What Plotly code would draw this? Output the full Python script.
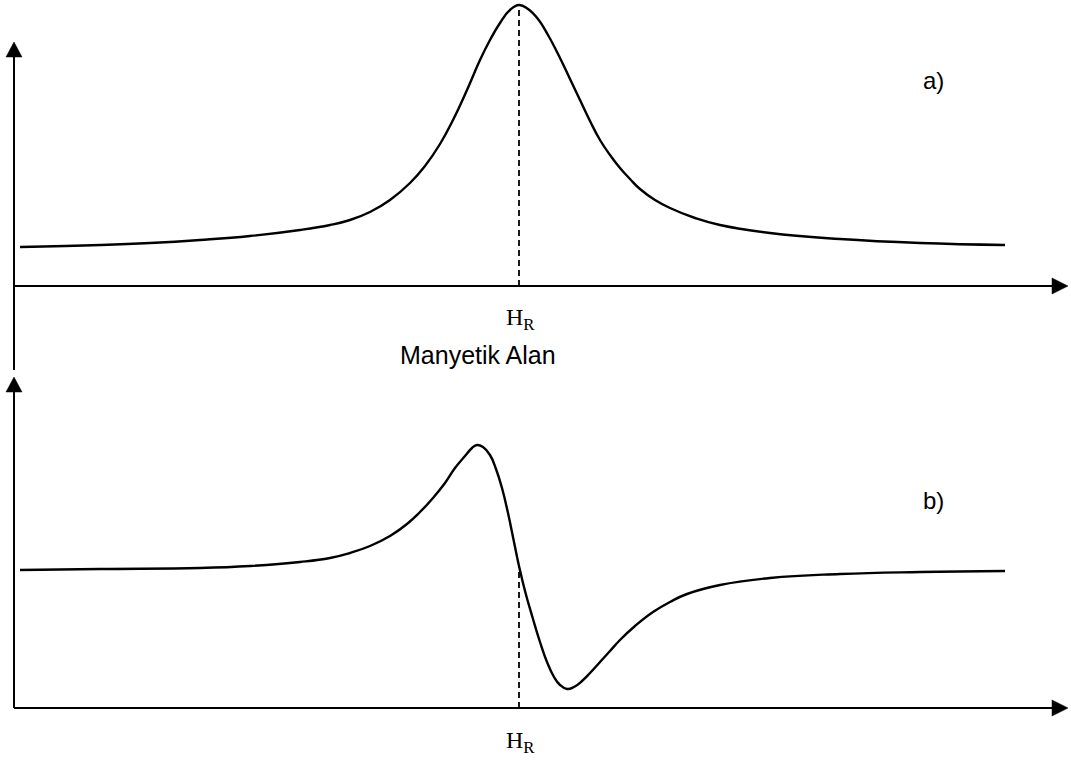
import plotly.graph_objects as go

# Resonance field position (shared by both panels), arbitrary field units
H_R = 519

# a) absorption line: field vs. signal height above the field axis
field_a = [20, 100, 150, 200, 250, 300, 330, 350, 370, 390, 410, 425, 440, 453, 467,
           480, 490, 500, 510, 519, 528, 538, 548, 560, 570, 580, 590, 600, 610,
           620, 630, 640, 655, 670, 695, 720, 770, 840, 920, 1005]
signal_a = [39, 41, 43, 46, 50, 56, 61, 66, 74, 86, 103, 120, 142, 166, 196,
            226, 246, 263, 276, 281, 277, 267, 251, 228, 207, 186, 165, 146, 131,
            118, 107, 97, 86, 78, 68, 61, 53, 47, 43, 41]

# b) first-derivative line
field_b = [20, 100, 200, 250, 300, 330, 350, 370, 390, 407, 420, 433, 445, 455, 465,
           472, 477, 483, 490, 496, 502, 508, 514, 519, 525, 533, 540, 547, 554,
           560, 567, 574, 582, 590, 600, 610, 620, 635, 653, 670, 687, 720, 770,
           840, 920, 1005]
signal_b = [138, 139, 140, 142, 146, 150, 155, 162, 172, 184, 196, 210, 225, 240, 252,
            260, 263, 261, 253, 239, 220, 195, 166, 142, 117, 89, 66, 46, 31,
            23, 19, 21, 27, 35, 46, 57, 68, 82, 96, 106, 114, 123, 130,
            134, 136, 137]

peak_a = 281      # absorption maximum at H_R
cross_b = 142     # derivative value where it crosses H_R

x_label = "Manyetik Alan"
res_label = "H<sub>R</sub>"

W, H = 1071, 763
BLACK = "#000000"
CURVE = dict(color=BLACK, width=2.4, shape="spline", smoothing=1.3)
DASH = dict(color=BLACK, width=1.8, dash="6px,4px")

fig = go.Figure()

# curves
fig.add_trace(go.Scatter(x=field_a, y=signal_a, mode="lines", line=CURVE,
                         yaxis="y", hoverinfo="skip"))
fig.add_trace(go.Scatter(x=field_b, y=signal_b, mode="lines", line=CURVE,
                         yaxis="y2", hoverinfo="skip"))

# dashed markers at the resonance field
fig.add_trace(go.Scatter(x=[H_R, H_R], y=[0, peak_a], mode="lines", line=DASH,
                         yaxis="y", hoverinfo="skip"))
fig.add_trace(go.Scatter(x=[H_R, H_R], y=[0, cross_b], mode="lines", line=DASH,
                         yaxis="y2", hoverinfo="skip"))

# hand-drawn axes with filled arrowheads (axis units are 1 px in both directions)
AX = dict(color=BLACK, width=2)
shapes = []


def h_axis(yref, x0, x1):
    shapes.append(dict(type="line", xref="x", yref=yref, x0=x0, x1=x1 - 14, y0=0, y1=0,
                       line=AX, layer="above"))
    shapes.append(dict(type="path", xref="x", yref=yref,
                       path=f"M {x1 - 16},-8 L {x1},0 L {x1 - 16},8 Z",
                       fillcolor=BLACK, line=dict(color=BLACK, width=0.5), layer="above"))


def v_axis(yref, y0, y1, x=14):
    shapes.append(dict(type="line", xref="x", yref=yref, x0=x, x1=x, y0=y0, y1=y1 - 13,
                       line=AX, layer="above"))
    shapes.append(dict(type="path", xref="x", yref=yref,
                       path=f"M {x - 8},{y1 - 15} L {x},{y1} L {x + 8},{y1 - 15} Z",
                       fillcolor=BLACK, line=dict(color=BLACK, width=0.5), layer="above"))


h_axis("y", 14, 1068)
v_axis("y", -84, 244)
h_axis("y2", 14, 1068)
v_axis("y2", 0, 331)

annotations = [
    dict(x=H_R + 1, y=-33, xref="x", yref="y", text=res_label, showarrow=False,
         font=dict(family="Liberation Serif", size=24, color=BLACK),
         xanchor="center", yanchor="middle"),
    dict(x=478, y=-69, xref="x", yref="y", text=x_label, showarrow=False,
         font=dict(family="Liberation Sans, Arial", size=25, color=BLACK),
         xanchor="center", yanchor="middle"),
    dict(x=933, y=206, xref="x", yref="y", text="a)", showarrow=False,
         font=dict(family="Liberation Sans, Arial", size=24, color=BLACK),
         xanchor="center", yanchor="middle"),
    dict(x=933, y=208, xref="x", yref="y2", text="b)", showarrow=False,
         font=dict(family="Liberation Sans, Arial", size=24, color=BLACK),
         xanchor="center", yanchor="middle"),
    dict(x=H_R + 1, y=-34, xref="x", yref="y2", text=res_label, showarrow=False,
         font=dict(family="Liberation Serif", size=24, color=BLACK),
         xanchor="center", yanchor="middle"),
]

fig.update_layout(
    width=W, height=H,
    margin=dict(l=0, r=0, t=0, b=0),
    paper_bgcolor="white", plot_bgcolor="white",
    showlegend=False,
    xaxis=dict(range=[0, W], visible=False, fixedrange=True),
    yaxis=dict(range=[286 - H, 286], visible=False, fixedrange=True),
    yaxis2=dict(range=[708 - H, 708], visible=False, overlaying="y", fixedrange=True),
    shapes=shapes,
    annotations=annotations,
)

fig.write_html("out.html")
